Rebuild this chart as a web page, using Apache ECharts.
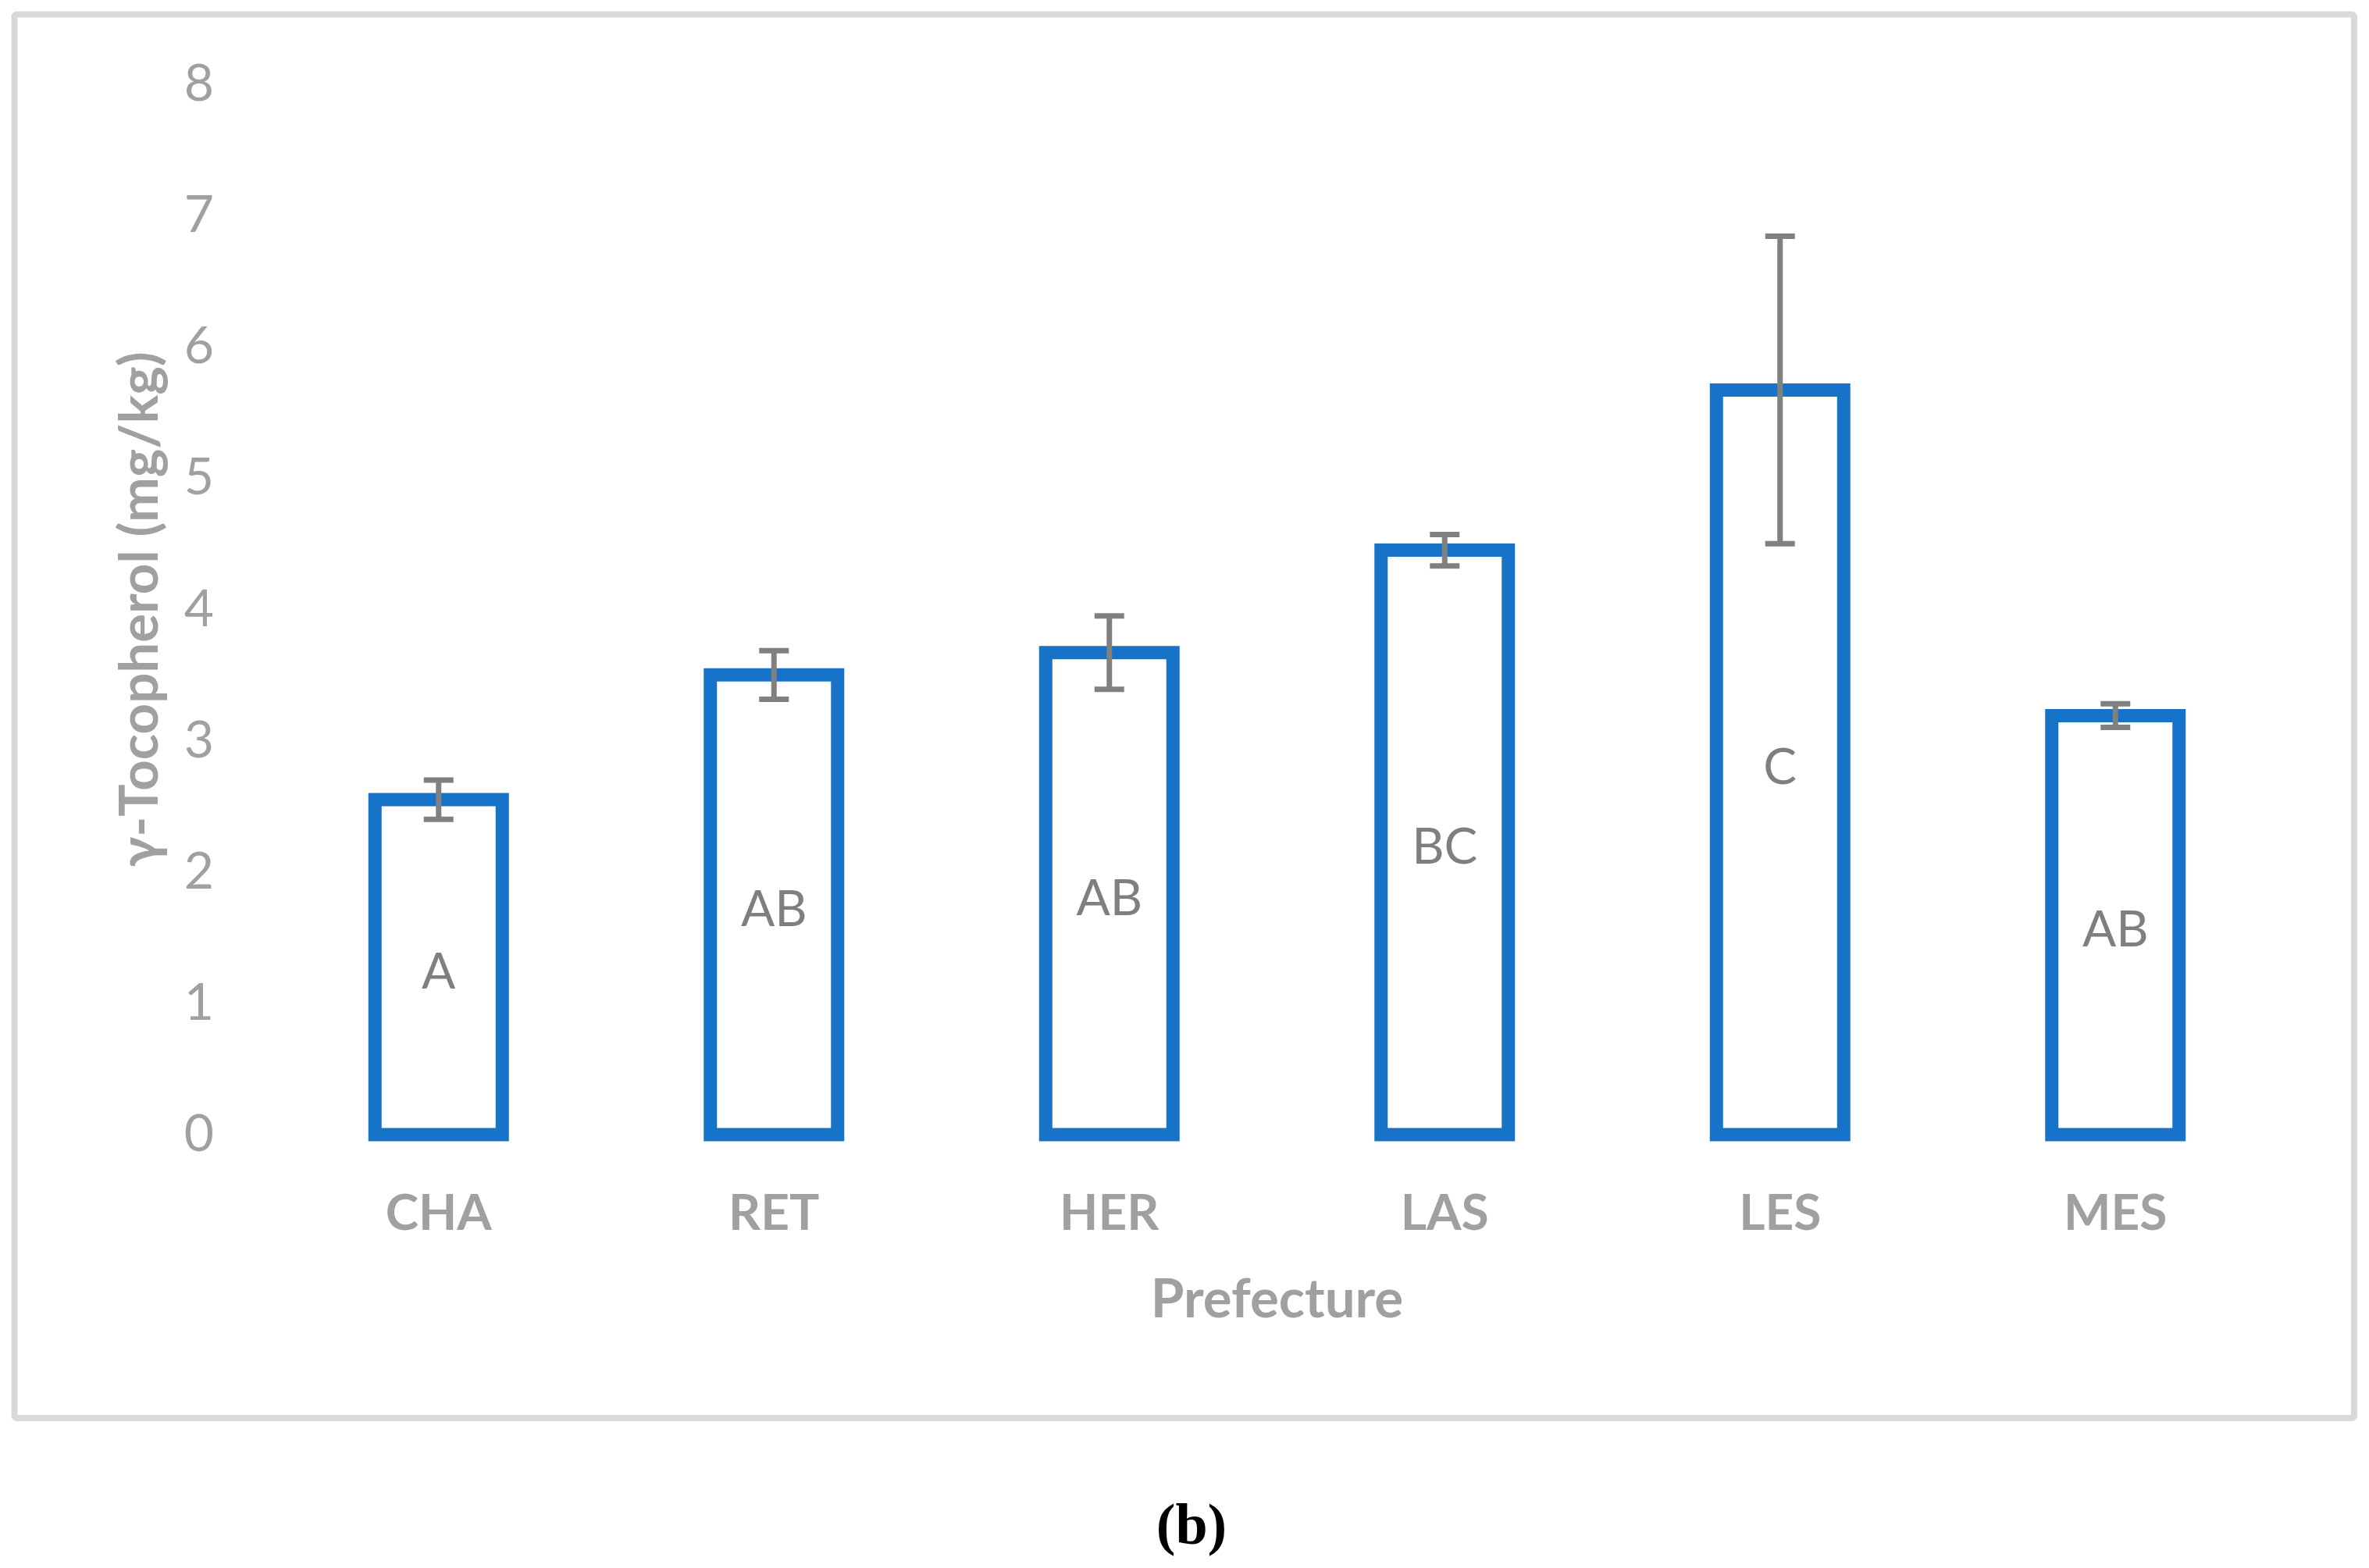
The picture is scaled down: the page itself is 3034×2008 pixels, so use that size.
<!DOCTYPE html>
<html>
<head>
<meta charset="utf-8">
<script src="https://cdn.jsdelivr.net/npm/echarts@6/dist/echarts.min.js"></script>
<style>html,body{margin:0;padding:0;background:#fff}#chart{width:3034px;height:2008px}</style>
</head>
<body>
<div id="chart"></div>
<script>
var categories = ['CHA', 'RET', 'HER', 'LAS', 'LES', 'MES'];
var means = [2.55, 3.50, 3.67, 4.45, 5.67, 3.19];
var errors = [0.15, 0.185, 0.28, 0.12, 1.17, 0.09];
var groups = ['A', 'AB', 'AB', 'BC', 'C', 'AB'];
var yTicks = [0, 1, 2, 3, 4, 5, 6, 7, 8];

var chart = echarts.init(document.getElementById('chart'), null, {renderer: 'canvas'});

var barData = means.map(function (v, i) { return [i, v]; });
var errData = means.map(function (v, i) {
  return [i, v - errors[i], v + errors[i]];
});

var option = {
  backgroundColor: '#ffffff',
  animation: false,
  grid: {left: 347, right: 110, top: 107.5, bottom: 555, containLabel: false},
  xAxis: {
    type: 'category',
    data: categories,
    axisLine: {show: false},
    axisTick: {show: false},
    splitLine: {show: false},
    axisLabel: {
      color: '#a0a0a0', fontFamily: 'Lato', fontWeight: 'bold', fontSize: 64, margin: 69
    },
    name: 'Prefecture',
    nameLocation: 'middle',
    nameGap: 177,
    nameTextStyle: {color: '#a0a0a0', fontFamily: 'Lato', fontWeight: 'bold', fontSize: 69}
  },
  yAxis: {
    type: 'value',
    min: yTicks[0],
    max: yTicks[yTicks.length - 1],
    interval: 1,
    axisLine: {show: false},
    axisTick: {show: false},
    splitLine: {show: false},
    axisLabel: {
      color: '#a0a0a0', fontFamily: 'Lato', fontSize: 66, margin: 73
    },
    name: 'γ-Tocopherol (mg/kg)',
    nameLocation: 'middle',
    nameGap: 133,
    nameRotate: 90,
    nameTextStyle: {color: '#a0a0a0', fontFamily: 'Lato', fontWeight: 'bold', fontSize: 69}
  },
  series: [
    {
      type: 'custom',
      data: barData,
      z: 2,
      renderItem: function (params, api) {
        var i = api.value(0);
        var top = api.coord([i, api.value(1)]);
        var base = api.coord([i, 0]);
        var w = 163;
        var idx = params.dataIndex;
        return {
          type: 'group',
          children: [
            {
              type: 'rect',
              shape: {x: top[0] - w / 2, y: top[1], width: w, height: base[1] - top[1]},
              style: {fill: '#ffffff', stroke: '#1773C8', lineWidth: 17}
            },
            {
              type: 'text',
              x: top[0], y: (top[1] + base[1]) / 2 + 7,
              style: {
                text: groups[idx], textAlign: 'center', textVerticalAlign: 'middle',
                fill: '#7f7f7f', font: '64px Lato'
              }
            }
          ]
        };
      }
    },
    {
      type: 'custom',
      data: errData,
      z: 5,
      renderItem: function (params, api) {
        var x = api.value(0);
        var lo = api.coord([x, api.value(1)]);
        var hi = api.coord([x, api.value(2)]);
        var half = 19;
        var st = {stroke: '#808080', lineWidth: 7};
        return {
          type: 'group',
          children: [
            {type: 'line', shape: {x1: lo[0], y1: lo[1], x2: hi[0], y2: hi[1]}, style: st},
            {type: 'line', shape: {x1: hi[0] - half, y1: hi[1], x2: hi[0] + half, y2: hi[1]}, style: st},
            {type: 'line', shape: {x1: lo[0] - half, y1: lo[1], x2: lo[0] + half, y2: lo[1]}, style: st}
          ]
        };
      }
    }
  ],
  graphic: [
    {
      type: 'rect', z: -1, silent: true,
      shape: {x: 18.5, y: 18.5, width: 2996.5, height: 1797.5, r: 3},
      style: {fill: 'none', stroke: '#d9d9d9', lineWidth: 8}
    },
    {
      type: 'text', x: 1526, y: 1958,
      style: {
        text: '(b)', textAlign: 'center', textVerticalAlign: 'middle',
        font: 'bold 74px "Liberation Serif"', fill: '#000000'
      }
    }
  ]
};
chart.setOption(option);
</script>
</body>
</html>
